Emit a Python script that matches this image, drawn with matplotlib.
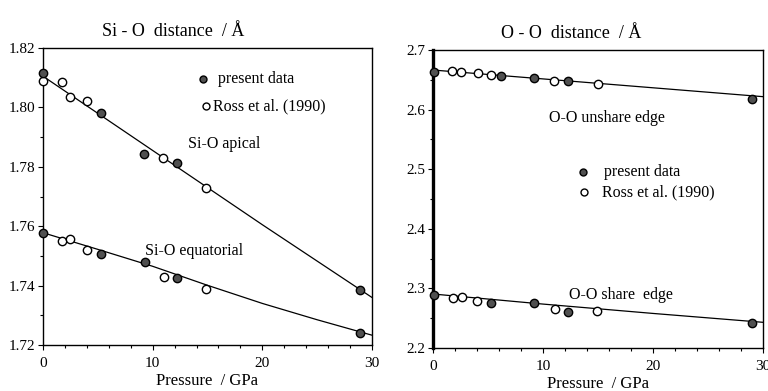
import matplotlib.pyplot as plt
from matplotlib.ticker import MultipleLocator

plt.rcParams['font.family'] = ['Liberation Serif', 'DejaVu Serif']

# ---------------------------------------------------------------------------
# Data
# ---------------------------------------------------------------------------
# Si-O apical
ap_p_present = [0.0, 5.3, 9.2, 12.2, 28.9]
ap_d_present = [1.8115, 1.7981, 1.7844, 1.7812, 1.7384]
ap_p_ross = [0.0, 1.7, 2.5, 4.0, 10.9, 14.9]
ap_d_ross = [1.809, 1.8087, 1.8035, 1.8021, 1.7830, 1.7727]
ap_fit_p = [0, 10, 20, 30]
ap_fit_d = [1.8105, 1.7855, 1.7605, 1.7360]

# Si-O equatorial
eq_p_present = [0.0, 5.3, 9.3, 12.2, 28.9]
eq_d_present = [1.7576, 1.7507, 1.7481, 1.7425, 1.7242]
eq_p_ross = [1.7, 2.5, 4.0, 11.0, 14.9]
eq_d_ross = [1.7549, 1.7557, 1.7520, 1.7430, 1.7388]
eq_fit_p = [0, 5, 10, 15, 20, 25, 30]
eq_fit_d = [1.7578, 1.7522, 1.7465, 1.7401, 1.7340, 1.7285, 1.7233]

# O-O unshared edge
un_p_present = [0.1, 6.2, 9.15, 12.3, 29.0]
un_d_present = [2.6636, 2.6564, 2.6525, 2.6475, 2.6178]
un_p_ross = [1.7, 2.5, 4.1, 5.3, 11.0, 15.0]
un_d_ross = [2.6648, 2.6626, 2.6614, 2.6580, 2.6475, 2.6424]
un_fit_p = [0, 30]
un_fit_d = [2.6664, 2.6217]

# O-O shared edge
sh_p_present = [0.1, 5.3, 9.15, 12.3, 29.0]
sh_d_present = [2.2889, 2.2760, 2.2760, 2.2604, 2.2414]
sh_p_ross = [1.85, 2.6, 4.0, 11.1, 14.9]
sh_d_ross = [2.2844, 2.2851, 2.2789, 2.2649, 2.2626]
sh_fit_p = [0, 10, 20, 30]
sh_fit_d = [2.2906, 2.2737, 2.2580, 2.2431]

# ---------------------------------------------------------------------------
# Figuur
# ---------------------------------------------------------------------------
fig = plt.figure(figsize=(7.68, 3.91), dpi=100)
ax1 = fig.add_axes([43 / 768, 1 - 345 / 391, 329 / 768, 297 / 391])
ax2 = fig.add_axes([433 / 768, 1 - 348 / 391, 330 / 768, 298 / 391])

filled = dict(ls='none', marker='o', ms=6, mfc='#505050', mec='black', mew=1.0, zorder=3)
hollow = dict(ls='none', marker='o', ms=6, mfc='white', mec='black', mew=1.0, zorder=3)
line = dict(color='black', lw=0.9, zorder=2)

# Linker paneel: Si-O
ax1.plot(ap_fit_p, ap_fit_d, **line)
ax1.plot(eq_fit_p, eq_fit_d, **line)
ax1.plot(ap_p_ross, ap_d_ross, **hollow)
ax1.plot(eq_p_ross, eq_d_ross, **hollow)
ax1.plot(ap_p_present, ap_d_present, **filled)
ax1.plot(eq_p_present, eq_d_present, **filled)
ax1.set_xlim(0, 30)
ax1.set_ylim(1.72, 1.82)
ax1.yaxis.set_major_locator(MultipleLocator(0.02))
ax1.yaxis.set_minor_locator(MultipleLocator(0.01))
ax1.yaxis.set_major_formatter(plt.FormatStrFormatter('%.2f'))

# Rechter paneel: O-O
ax2.plot(un_fit_p, un_fit_d, **line)
ax2.plot(sh_fit_p, sh_fit_d, **line)
ax2.plot(un_p_ross, un_d_ross, **hollow)
ax2.plot(sh_p_ross, sh_d_ross, **hollow)
ax2.plot(un_p_present, un_d_present, **filled)
ax2.plot(sh_p_present, sh_d_present, **filled)
ax2.set_xlim(0, 30)
ax2.set_ylim(2.2, 2.7)
ax2.yaxis.set_major_locator(MultipleLocator(0.1))
ax2.yaxis.set_minor_locator(MultipleLocator(0.05))
ax2.spines['left'].set_linewidth(2.4)

for ax in (ax1, ax2):
    ax.xaxis.set_major_locator(MultipleLocator(10))
    ax.xaxis.set_minor_locator(MultipleLocator(2))
    ax.tick_params(which='major', direction='out', length=3.5, width=0.8,
                   labelsize=11, pad=2)
    ax.tick_params(which='minor', direction='out', length=2, width=0.8)
    ax.tick_params(axis='x', pad=5)
    for side in ('top', 'right', 'bottom'):
        ax.spines[side].set_linewidth(1.0)
    if ax is ax1:
        ax.spines['left'].set_linewidth(1.0)
    ax.set_xlabel('Pressure  / GPa', fontsize=12, labelpad=2)

# Titels
fig.text(173 / 768, 1 - 32 / 391, 'Si - O  distance  / Å', ha='center', va='center', fontsize=13)
fig.text(571 / 768, 1 - 33 / 391, 'O - O  distance  / Å', ha='center', va='center', fontsize=13)

# Labels in de panelen
fig.text(188 / 768, 1 - 144 / 391, 'Si-O apical', va='center', fontsize=11.5)
fig.text(145 / 768, 1 - 251 / 391, 'Si-O equatorial', va='center', fontsize=11.5)
fig.text(549 / 768, 1 - 118 / 391, 'O-O unshare edge', va='center', fontsize=11.5)
fig.text(569 / 768, 1 - 295 / 391, 'O-O share  edge', va='center', fontsize=11.5)

# Legendes (handmatig, zoals in het origineel)
def legend_item(x_mark, x_text, y, face, label):
    fig.lines.append(plt.Line2D([x_mark / 768], [1 - y / 391], transform=fig.transFigure,
                                marker='o', ms=5, mfc=face, mec='black', mew=1.0))
    fig.text(x_text / 768, 1 - y / 391, label, va='center', fontsize=11.5)

legend_item(203, 218, 79, '#505050', 'present data')
legend_item(206, 213, 106, 'white', 'Ross et al. (1990)')
legend_item(583, 604, 172, '#505050', 'present data')
legend_item(584, 602, 192, 'white', 'Ross et al. (1990)')

for a in (ax1, ax2):
    for ln in a.lines:
        ln.set_clip_on(False)

fig.savefig('out.png', dpi=100)
